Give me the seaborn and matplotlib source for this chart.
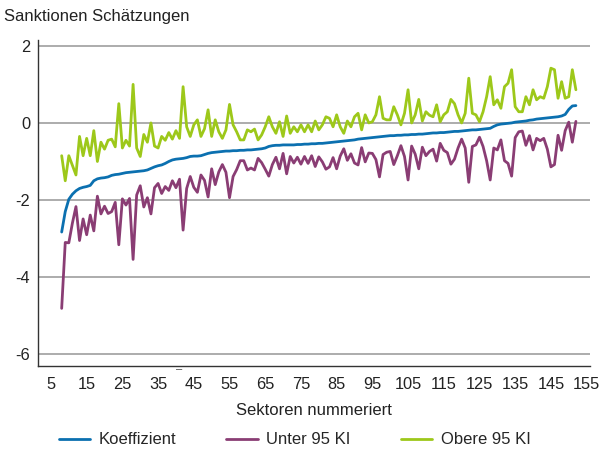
import numpy as np
import pandas as pd
import matplotlib
matplotlib.use("Agg")
import matplotlib.pyplot as plt
import seaborn as sns

# sector numbers (x axis)
sektoren = list(range(8, 153))

# coefficient estimates (sorted)
koeffizient = [
    -2.83, -2.30, -1.98, -1.85, -1.76, -1.70, -1.67, -1.65, -1.62, -1.50,
    -1.45, -1.43, -1.42, -1.40, -1.36, -1.34, -1.33, -1.31, -1.29, -1.28,
    -1.27, -1.26, -1.25, -1.24, -1.22, -1.18, -1.14, -1.11, -1.09, -1.05,
    -1.00, -0.96, -0.94, -0.93, -0.92, -0.90, -0.87, -0.86, -0.86, -0.85,
    -0.82, -0.79, -0.77, -0.76, -0.75, -0.74, -0.73, -0.73, -0.72, -0.72,
    -0.71, -0.71, -0.70, -0.70, -0.69, -0.68, -0.67, -0.65, -0.61, -0.59,
    -0.58, -0.58, -0.57, -0.57, -0.57, -0.57, -0.56, -0.56, -0.55, -0.55,
    -0.54, -0.54, -0.53, -0.53, -0.52, -0.51, -0.50, -0.49, -0.48, -0.47,
    -0.46, -0.45, -0.44, -0.42, -0.41, -0.40, -0.39, -0.38, -0.37, -0.36,
    -0.35, -0.34, -0.33, -0.33, -0.32, -0.32, -0.31, -0.31, -0.30, -0.30,
    -0.29, -0.29, -0.28, -0.27, -0.26, -0.26, -0.25, -0.25, -0.24, -0.23,
    -0.22, -0.22, -0.21, -0.20, -0.19, -0.18, -0.18, -0.17, -0.16, -0.15,
    -0.14, -0.09, -0.05, -0.03, -0.02, -0.01, 0.00, 0.02, 0.03, 0.04,
    0.05, 0.07, 0.08, 0.10, 0.11, 0.12, 0.13, 0.14, 0.15, 0.16,
    0.18, 0.22, 0.35, 0.44, 0.45,
]

# lower 95% bound
unter = [
    -4.81, -3.10, -3.11, -2.60, -2.17, -3.05, -2.49, -2.90, -2.39, -2.80,
    -1.90, -2.36, -2.16, -2.35, -2.30, -2.06, -3.16, -1.97, -2.13, -1.96,
    -3.54, -1.87, -1.63, -2.18, -1.94, -2.36, -1.68, -1.57, -1.83, -1.65,
    -1.75, -1.50, -1.68, -1.46, -2.78, -1.70, -1.39, -1.67, -1.80, -1.35,
    -1.49, -1.92, -1.19, -1.60, -1.27, -1.08, -1.28, -1.94, -1.39, -1.21,
    -0.98, -0.98, -1.22, -1.17, -1.22, -0.92, -1.03, -1.20, -1.38, -1.08,
    -0.89, -1.19, -0.79, -1.32, -0.87, -1.04, -0.89, -1.07, -0.87, -1.05,
    -0.85, -1.13, -0.88, -1.01, -1.20, -1.14, -0.90, -1.19, -0.86, -0.67,
    -0.97, -0.80, -1.04, -1.09, -0.64, -1.01, -0.78, -0.79, -0.95, -1.40,
    -0.82, -0.76, -0.74, -1.08, -0.85, -0.59, -0.87, -1.48, -0.60, -0.81,
    -1.19, -0.63, -0.85, -0.74, -0.68, -0.99, -0.53, -0.71, -0.77, -1.07,
    -0.94, -0.65, -0.42, -0.65, -1.54, -0.61, -0.57, -0.37, -0.61, -0.98,
    -1.48, -0.65, -0.70, -0.44, -0.98, -1.05, -1.38, -0.38, -0.23, -0.21,
    -0.58, -0.33, -0.70, -0.40, -0.46, -0.40, -0.68, -1.14, -1.08, -0.32,
    -0.71, -0.20, 0.02, -0.50, 0.04,
]

# upper 95% bound
obere = [
    -0.85, -1.50, -0.85, -1.10, -1.35, -0.35, -0.85, -0.40, -0.85, -0.20,
    -1.00, -0.50, -0.68, -0.45, -0.42, -0.62, 0.50, -0.65, -0.45, -0.60,
    1.00, -0.65, -0.87, -0.30, -0.50, 0.00, -0.60, -0.65, -0.35, -0.45,
    -0.25, -0.42, -0.20, -0.40, 0.94, -0.10, -0.35, -0.05, 0.08, -0.35,
    -0.15, 0.34, -0.35, 0.08, -0.23, -0.40, -0.18, 0.48, -0.05, -0.23,
    -0.44, -0.44, -0.18, -0.23, -0.16, -0.44, -0.31, -0.10, 0.16, -0.10,
    -0.27, 0.03, -0.35, 0.18, -0.27, -0.10, -0.23, -0.05, -0.23, -0.05,
    -0.23, 0.05, -0.18, -0.05, 0.16, 0.12, -0.10, 0.21, -0.10, -0.27,
    0.05, -0.10, 0.16, 0.25, -0.18, 0.21, 0.00, 0.03, 0.21, 0.68,
    0.12, 0.08, 0.08, 0.42, 0.21, -0.05, 0.25, 0.86, 0.00, 0.21,
    0.61, 0.05, 0.29, 0.20, 0.16, 0.47, 0.03, 0.21, 0.29, 0.61,
    0.50, 0.21, 0.00, 0.25, 1.16, 0.25, 0.21, 0.03, 0.29, 0.68,
    1.20, 0.47, 0.60, 0.38, 0.94, 1.03, 1.38, 0.42, 0.29, 0.29,
    0.68, 0.47, 0.86, 0.60, 0.68, 0.64, 0.94, 1.42, 1.38, 0.64,
    1.07, 0.64, 0.68, 1.38, 0.86,
]

serien = ["Koeffizient", "Unter 95 KI", "Obere 95 KI"]
farben = ["#0b70b0", "#8a3d74", "#9dc81a"]

df = pd.DataFrame({"Sektor": sektoren, serien[0]: koeffizient,
                   serien[1]: unter, serien[2]: obere})
long = df.melt(id_vars="Sektor", var_name="Reihe", value_name="Wert")

sns.set_style("white")
plt.rcParams["font.family"] = ["Liberation Sans", "DejaVu Sans"]
plt.rcParams["axes.unicode_minus"] = False

fig = plt.figure(figsize=(6.01, 4.55), dpi=100)
ax = fig.add_axes([0.064, 0.196, 0.918, 0.716])

sns.lineplot(data=long, x="Sektor", y="Wert", hue="Reihe", hue_order=serien,
             palette=farben, linewidth=2.0, ax=ax, legend=True)

ax.set_xlim(1.5, 156)
ax.set_ylim(-6.3, 2.15)
ax.set_xticks(range(5, 156, 10))
ax.set_yticks([-6, -4, -2, 0, 2])
ax.yaxis.grid(True, color="#a6a6a6", linewidth=1.3)
ax.set_axisbelow(True)
for s in ["top", "right"]:
    ax.spines[s].set_visible(False)
for s in ["left", "bottom"]:
    ax.spines[s].set_color("#333333")
    ax.spines[s].set_linewidth(1.0)
ax.tick_params(axis="both", direction="out", length=5, width=1,
               color="#333333", labelsize=11.8, labelcolor="#222222", pad=3)
ax.tick_params(axis="y", length=4, pad=2)

ax.set_xlabel("Sektoren nummeriert", fontsize=12, color="#222222", labelpad=8)
ax.set_ylabel("")

fig.text(4 / 601, 1 - 17 / 455, "Sanktionen Schätzungen", fontsize=12,
         color="#222222", va="center", ha="left")
fig.text(179 / 601, 1 - 369 / 455, "–", fontsize=8, color="#444444",
         ha="center", va="center")

handles, labels = ax.get_legend_handles_labels()
ax.get_legend().remove()
fig.legend(handles, labels, loc="center", bbox_to_anchor=(0.49, 0.033),
           ncol=3, frameon=False, fontsize=12, handlelength=1.9,
           columnspacing=3.0, handletextpad=0.5)

fig.savefig("out.png", dpi=100)
